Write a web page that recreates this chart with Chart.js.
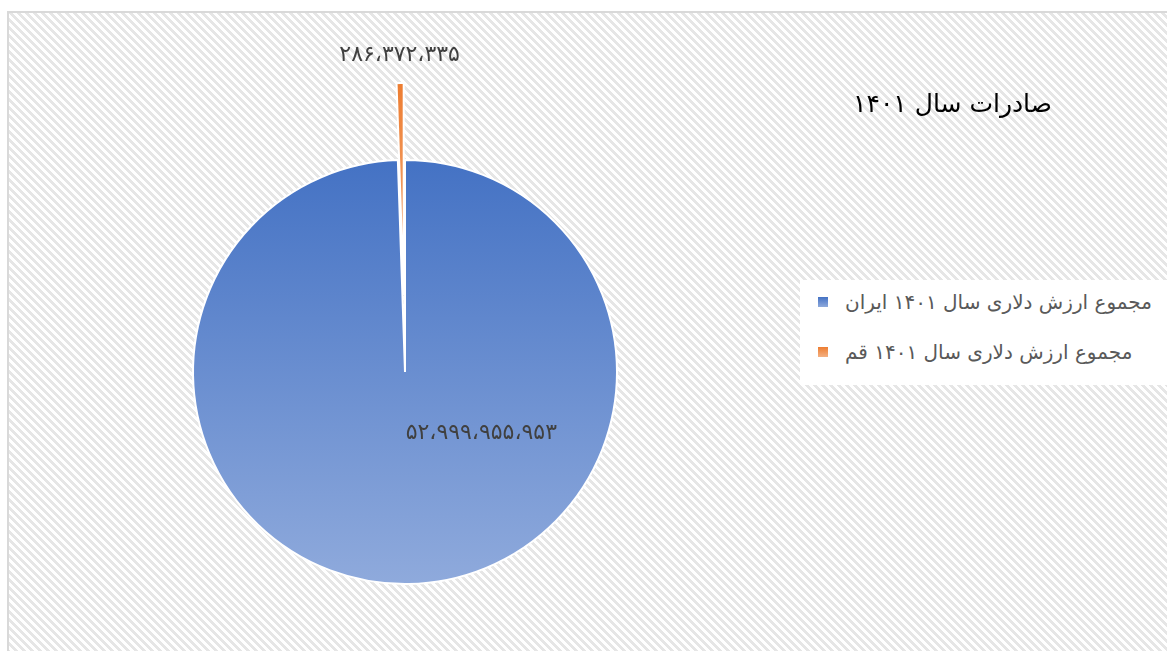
<!DOCTYPE html>
<html lang="fa">
<head>
<meta charset="utf-8">
<script src="https://cdn.jsdelivr.net/npm/chart.js@4.4.1/dist/chart.umd.min.js"></script>
<style>
  html, body { margin: 0; padding: 0; width: 1167px; height: 651px; overflow: hidden; background: #fff; }
  #frame { position: absolute; left: 7px; top: 11px; width: 1200px; height: 700px; border: 2px solid #d9d9d9; box-sizing: border-box; }
  #chart { position: absolute; left: 0; top: 0; }
  #title { position: absolute; left: 800px; width: 305px; top: 89px; text-align: center; font: 25px "DejaVu Sans", sans-serif; color: #000; }
  #legend { position: absolute; left: 800px; top: 280px; width: 367px; height: 105px; background: #fff; font: 20px "DejaVu Sans", sans-serif; color: #595959; }
  .item { position: absolute; left: 18px; display: flex; align-items: center; }
  .item .box { width: 10px; height: 10px; margin-right: 17px; }
</style>
</head>
<body>
<div id="frame"></div>
<canvas id="chart" width="1167" height="651"></canvas>
<div id="title" dir="rtl">صادرات سال ۱۴۰۱</div>
<div id="legend"></div>
<script>
// Data
const labels = ['مجموع ارزش دلاری سال ۱۴۰۱ ایران', 'مجموع ارزش دلاری سال ۱۴۰۱ قم'];
const values = [52999955953, 286372335];
const colorsTop = ['#4472c4', '#ed7d31'];
const colorsBottom = ['#8faadc', '#f4b183'];

const RADIUS = 212;
const EXPLODE = [0, 77]; // px the slice is pulled out of the pie
// where each value label goes: inside slice (fraction of radius) or past the exploded tip
const labelPlacement = [
  { inside: true, dx: 0.36, dy: 0.29 },
  { inside: false, gap: 28 },
];

function toPersian(n) {
  const digits = '۰۱۲۳۴۵۶۷۸۹';
  return String(n).replace(/\B(?=(\d{3})+(?!\d))/g, '،').replace(/\d/g, d => digits[d]);
}

// hatched chart-area background (8x8 tile)
(function () {
  const t = document.createElement('canvas');
  t.width = 8; t.height = 8;
  const c = t.getContext('2d');
  c.fillStyle = '#fff'; c.fillRect(0, 0, 8, 8);
  c.fillStyle = '#e6e6e6';
  for (let y = 0; y < 8; y++) for (let x = 0; x < 8; x++) {
    if (((x - y) & 7) < 4) c.fillRect(x, y, 1, 1);
  }
  document.getElementById('frame').style.backgroundImage = `url(${t.toDataURL()})`;
})();

// legend
const legend = document.getElementById('legend');
legend.innerHTML = labels.map((l, i) => `
  <div class="item" style="top:${10 + i * 50}px">
    <span class="box" style="background:linear-gradient(${colorsTop[i]}, ${colorsBottom[i]})"></span>
    <span dir="rtl">${l}</span>
  </div>`).join('');

function sliceGradient(context) {
  const chart = context.chart;
  const area = chart.chartArea;
  if (!area) return colorsTop[context.dataIndex];
  const cy = (area.top + area.bottom) / 2;
  const i = context.dataIndex;
  const top = cy - RADIUS - EXPLODE[i];
  const bottom = i === 0 ? cy + RADIUS : cy - EXPLODE[i];
  const g = chart.ctx.createLinearGradient(0, top, 0, bottom);
  g.addColorStop(0, colorsTop[i]);
  g.addColorStop(1, colorsBottom[i]);
  return g;
}

// Excel-style explosion: move the whole slice outwards, radius unchanged
const explodeSlices = {
  id: 'explodeSlices',
  afterUpdate(chart) {
    chart.getDatasetMeta(0).data.forEach((arc, i) => {
      if (!EXPLODE[i]) return;
      const mid = (arc.startAngle + arc.endAngle) / 2;
      arc.x += Math.cos(mid) * EXPLODE[i];
      arc.y += Math.sin(mid) * EXPLODE[i];
    });
  }
};

const valueLabels = {
  id: 'valueLabels',
  afterDatasetsDraw(chart) {
    const ctx = chart.ctx;
    const meta = chart.getDatasetMeta(0);
    ctx.save();
    ctx.font = '22px "DejaVu Sans", sans-serif';
    ctx.fillStyle = '#404040';
    ctx.textAlign = 'center';
    ctx.textBaseline = 'middle';
    meta.data.forEach((arc, i) => {
      const p = labelPlacement[i];
      let x, y;
      if (p.inside) {
        x = arc.x + arc.outerRadius * p.dx;
        y = arc.y + arc.outerRadius * p.dy;
      } else {
        const mid = (arc.startAngle + arc.endAngle) / 2;
        const d = arc.outerRadius + p.gap;
        x = arc.x + Math.cos(mid) * d;
        y = arc.y + Math.sin(mid) * d;
      }
      ctx.fillText(toPersian(values[i]), x, y);
    });
    ctx.restore();
  }
};

new Chart(document.getElementById('chart'), {
  type: 'pie',
  data: {
    labels: labels,
    datasets: [{
      data: values,
      backgroundColor: sliceGradient,
      borderColor: '#fff',
      borderWidth: 2,
    }]
  },
  options: {
    responsive: false,
    animation: false,
    events: [],
    radius: RADIUS,
    layout: { padding: { left: 0, right: 357, top: 93, bottom: 0 } },
    plugins: { legend: { display: false }, title: { display: false }, tooltip: { enabled: false } },
  },
  plugins: [explodeSlices, valueLabels],
});
</script>
</body>
</html>
